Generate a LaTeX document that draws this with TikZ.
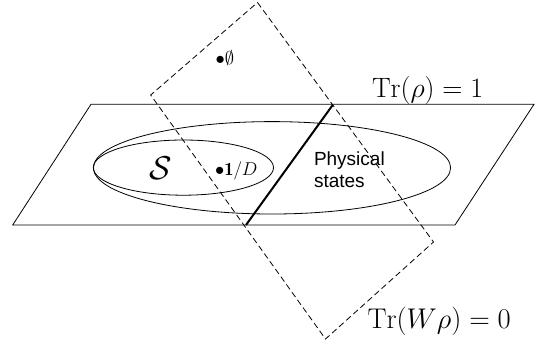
\RequirePackage{fix-cm}
\documentclass[tikz,border=0pt]{standalone}
\usepackage{fontspec}
\newfontfamily\arialfont{Liberation Sans}
\begin{document}
\begin{tikzpicture}[x=1pt,y=-1pt,
  thinline/.style={line width=0.8pt,black},
  dashline/.style={line width=0.8pt,black,dash pattern=on 6pt off 3.5pt},
  thickline/.style={line width=2pt,black},
  lbl/.style={inner sep=0pt,outer sep=0pt}]
\useasboundingbox (0,0) rectangle (535,341);
% plane Tr(rho)=1
\coordinate (p1) at (91,104.3);
\coordinate (p2) at (534,104.3);
\coordinate (p3) at (455,225);
\coordinate (p4) at (12.7,225);
\draw[thinline] (p1) -- (p2) -- (p3) -- (p4) -- cycle;
% ellipses
\draw[thinline] (272,167.8) ellipse [x radius=178.6pt, y radius=46.2pt];
\draw[thinline] (183.4,167.6) ellipse [x radius=90.1pt, y radius=27.6pt];
% dashed plane
\coordinate (d1) at (257.5,2.5);
\coordinate (d2) at (433.5,242);
\coordinate (d3) at (325.5,339);
\coordinate (d4) at (150.7,95);
\draw[dashline] (d1) -- (d2) -- (d3) -- (d4) -- cycle;
% intersection line
\coordinate (t1) at (332.7,105);
\coordinate (t2) at (246,225);
\draw[thickline] (t1) -- (t2);
% labels
\node[lbl,anchor=base west,font=\fontsize{28}{32}\selectfont] (tr1) at (372,97.7) {$\mathrm{Tr}(\rho)=1$};
\node[lbl,anchor=base west,font=\fontsize{28.5}{32}\selectfont] (tr0) at (367.5,328) {$\mathrm{Tr}(W\rho)=0$};
\node[lbl,font=\fontsize{33}{36}\selectfont] (S) at (160.7,168) {$\mathcal{S}$};
\node[lbl,anchor=base west,font=\fontsize{18.5}{21}\selectfont] (id) at (215,175) {$\bullet\mathbf{1}/D$};
\node[lbl,anchor=base west,font=\fontsize{18.5}{21}\selectfont] (empty) at (215.5,64) {$\bullet\emptyset$};
\node[lbl,anchor=base west,align=left,font=\arialfont\fontsize{19}{22.3}\selectfont] (phys) at (314,187.3) {Physical\\states};
\end{tikzpicture}
\end{document}
